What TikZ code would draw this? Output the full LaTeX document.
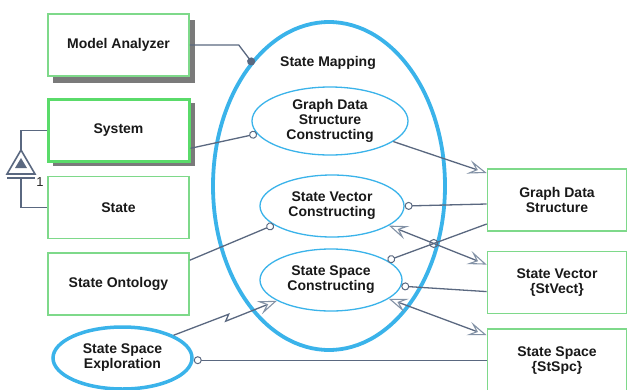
\documentclass[tikz,border=0pt]{standalone}
\usepackage{fontspec}
\setmainfont{Liberation Sans}
\usetikzlibrary{arrows.meta}
\usetikzlibrary{positioning}
\usetikzlibrary{shapes.geometric}
\usetikzlibrary{intersections}
\definecolor{boxgreen}{HTML}{7ED98A}
\definecolor{sysgreen}{HTML}{5ADB6A}
\definecolor{procblue}{HTML}{3AB3EA}
\definecolor{linkgray}{HTML}{5A6880}
\definecolor{tipgray}{HTML}{8392A6}
\definecolor{shadowgray}{HTML}{7A7A7A}
\tikzset{
  object/.style={draw=boxgreen, line width=1.6pt, fill=white, minimum width=141pt,
    minimum height=62pt, inner sep=2pt, align=center, text=black!90,
    font=\fontsize{14}{15}\selectfont\bfseries},
  shadowbox/.style={fill=shadowgray, draw=shadowgray, line width=1pt, minimum width=141pt, minimum height=62pt, inner sep=0pt},
  process/.style={ellipse, draw=procblue, line width=1.3pt, fill=white, inner sep=0pt,
    align=center, text=black!90, font=\fontsize{14}{15}\selectfont\bfseries},
  link/.style={draw=linkgray, line width=1.3pt},
  knob/.style={link, -{Circle[length=8pt, fill=white, line width=1pt]}},
  effect/.style={link, >={Stealth[length=19pt, width=14pt, inset=8pt, color=tipgray,
    fill=white, line width=1.1pt]}},
}

\begin{document}
\begin{tikzpicture}[x=1pt, y=-1pt]
    \useasboundingbox (0,0) rectangle (627,389);

    \node[shadowbox] (mashadow) at (124,51) {};
    \node[shadowbox] (sysshadow) at (124,134) {};

    \node[object] (ma) at (118.5,45) {Model Analyzer};
    \node[object, draw=sysgreen, line width=3pt, below=21pt of ma] (sys) {System};
    \node[object, below=13pt of sys] (state) {State};
    \node[object, below=13pt of state] (onto) {State Ontology};

    \node[object, minimum width=139pt] (gds) at (557,200) {Graph Data\\Structure};
    \node[object, minimum width=139pt, below=19pt of gds] (sv) {State Vector\\\{StVect\}};
    \node[object, minimum width=139pt, below=14pt of sv] (ss) {State Space\\\{StSpc\}};

    \node[process, line width=3.8pt, minimum width=232pt, minimum height=328pt] (sm) at (329,186) {};
    \node[font=\fontsize{14}{15}\selectfont\bfseries, text=black!90] (smlabel) at (328,63) {State Mapping};
    \node[process, minimum width=156pt, minimum height=68pt] (gdsc) at (330,121) {Graph Data\\Structure\\Constructing};
    \node[process, minimum width=144pt, minimum height=62pt] (svc) at (332,206) {State Vector\\Constructing};
    \node[process, minimum width=142pt, minimum height=62pt] (ssc) at (331,280) {State Space\\Constructing};
    \node[process, line width=3.5pt, minimum width=139pt, minimum height=62pt] (sse) at (122.5,358) {State Space\\Exploration};

    \coordinate (genTop) at (21,150);
    \coordinate (genBase) at (21,178);
    \draw[link] (sys.west) -| (genTop);
    \draw[link] (genBase) |- (state.west);
    \draw[link, fill=white, line width=1.6pt] (genTop) -- ++(-14,24) -- ++(28,0) -- cycle;
    \fill[linkgray] (21,158) -- ++(-6,10) -- ++(12,0) -- cycle;
    \draw[link] (7,178) -- (35,178);
    \node[text=black!85, font=\fontsize{13}{13}\selectfont] (mult) at (40,182) {1};

    \draw[link, shorten >=-4pt, -{Circle[length=8pt]}] (ma.east) -- ++(49,0) -- (sm.122);
    \draw[knob] ([yshift=-18pt]sys.east) -- (gdsc.190);
    \draw[knob] ([yshift=24pt]onto.east) -- (svc.198);
    \draw[knob] ([yshift=-4pt]gds.west) -- (svc.east);
    \draw[knob, name path=gdsline] ([yshift=-24pt]gds.west) -- (ssc.19);
    \draw[knob] ([yshift=-9pt]sv.west) -- (ssc.-5);
    \draw[knob] (ss.west) -- (ss.west -| sse.east);

    \draw[effect, ->] (gdsc.342) -- ([yshift=27pt]gds.west);
    \draw[effect, <->, name path=svline] (svc.341) -- ([yshift=18pt]sv.west);
    \draw[effect, <->] (ssc.342) -- ([yshift=25pt]ss.west);
    \draw[effect, ->] (sse.24) -- ++(55,-21) -- ++(-3,7) -- (ssc.201);

    \path[name intersections={of=gdsline and svline, by=hop}];
    \draw[link, line width=1pt] (hop) circle[radius=4pt];
\end{tikzpicture}
\end{document}
